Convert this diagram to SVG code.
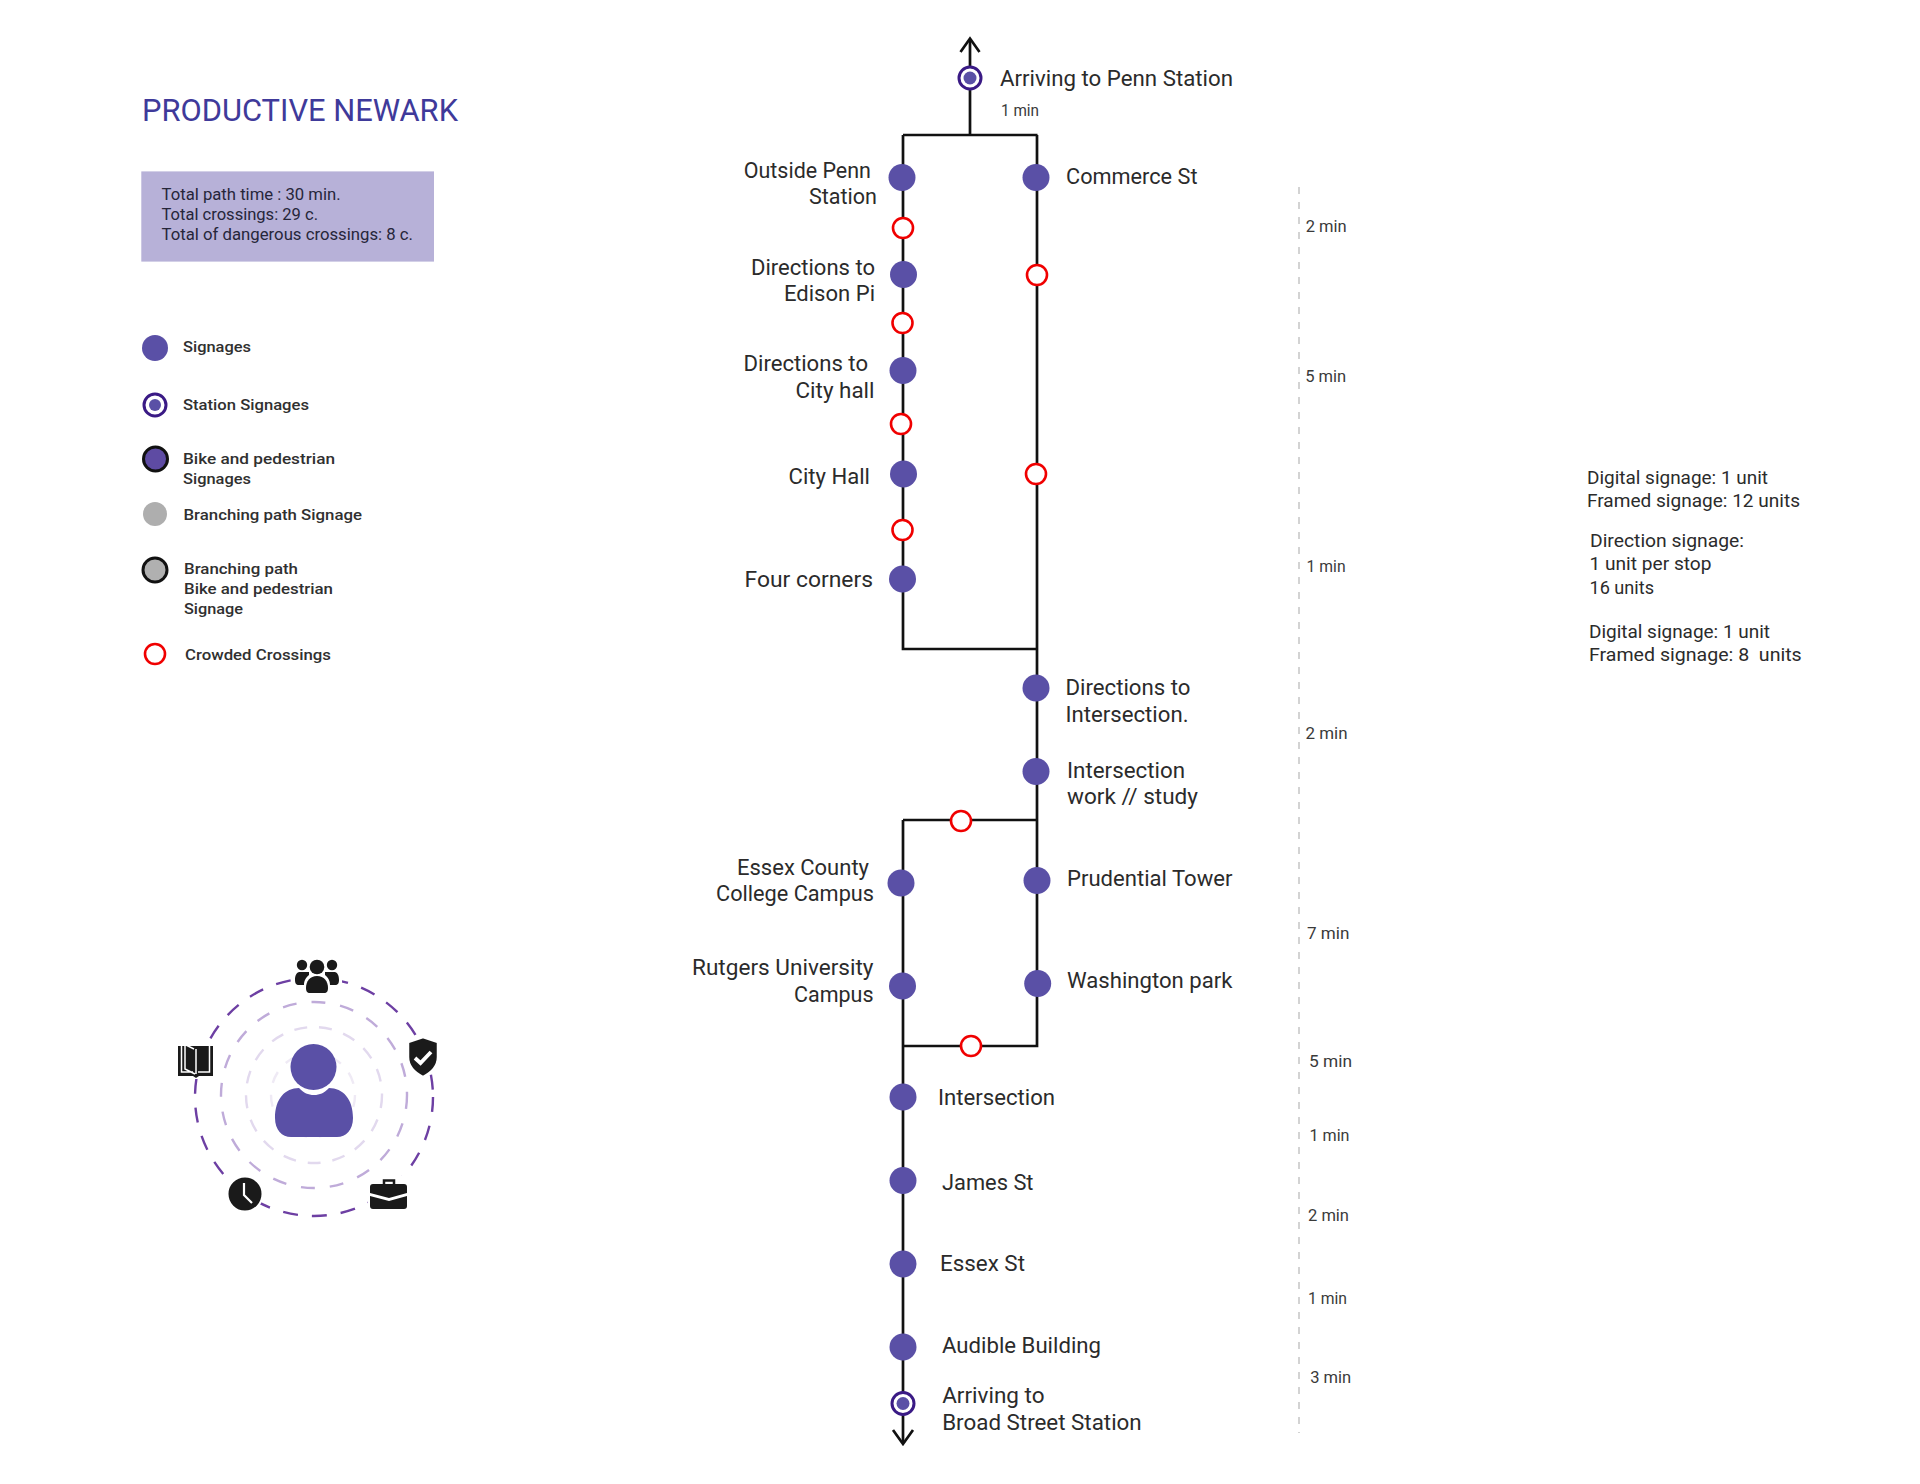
<svg xmlns="http://www.w3.org/2000/svg" width="1920" height="1484" viewBox="0 0 1920 1484">
<defs>
<style>
text{font-family:"Roboto","Liberation Sans",sans-serif;fill:#2b2b2b}
.l{font-size:22.5px}
.m{font-size:16.5px;fill:#3a3a3a}
.s{font-size:18.5px}
.k{font-size:15.5px;font-weight:500;fill:#303030}
.b{font-size:17px;fill:#26263a}
.n{fill:#5a50a6}
.x{fill:#fff;stroke:#f00000;stroke-width:2.6}
.st{fill:#fff;stroke:#3a1a85;stroke-width:3}
.line{fill:none;stroke:#111;stroke-width:2.700}
.ico{fill:#1a1a1a}
</style>
</defs>
<rect width="1920" height="1484" fill="#fff"/>

<g id="connectors">
<path class="line" d="M970 40V135M903 135H1037.500M903 135V649H1037M1037 135V1046H903M903 820H1037M903 820V1442"/>
<path class="line" d="M960.500 52L970 38.500L979.500 52M893 1430L903 1444L913 1430"/>
<path d="M1299 187V1433" fill="none" stroke="#cfcfcf" stroke-width="1.800" stroke-dasharray="7 8"/>
</g>

<g id="title-block">
<text x="142" y="121" textLength="316" lengthAdjust="spacingAndGlyphs" style="font-size:31px;fill:#3f3a9a">PRODUCTIVE NEWARK</text>
<rect x="141.300" y="171.400" width="292.700" height="90.200" fill="#b7b1d8"/>
<text class="b" x="161.500" y="199.800" textLength="179.200" lengthAdjust="spacingAndGlyphs">Total path time : 30 min.</text>
<text class="b" x="161.500" y="219.700" textLength="156.500" lengthAdjust="spacingAndGlyphs">Total crossings: 29 c.</text>
<text class="b" x="161.500" y="240" textLength="251.500" lengthAdjust="spacingAndGlyphs">Total of dangerous crossings: 8 c.</text>
</g>

<g id="legend">
<g id="legend-signages"><circle class="n" cx="155" cy="348" r="13"/><text class="k" x="183" y="352" textLength="68" lengthAdjust="spacingAndGlyphs">Signages</text></g>
<g id="legend-station"><circle class="st" cx="155" cy="405" r="11"/><circle class="n" cx="155" cy="405" r="6"/><text class="k" x="183" y="409.500" textLength="126" lengthAdjust="spacingAndGlyphs">Station Signages</text></g>
<g id="legend-bike"><circle cx="155.500" cy="459" r="12" fill="#5e4ba3" stroke="#111" stroke-width="3"/><text class="k" x="183" y="464" textLength="152" lengthAdjust="spacingAndGlyphs">Bike and pedestrian</text><text class="k" x="183" y="484" textLength="68" lengthAdjust="spacingAndGlyphs">Signages</text></g>
<g id="legend-branch"><circle cx="155" cy="514" r="12" fill="#aeaeae"/><text class="k" x="183.500" y="519.500" textLength="178.500" lengthAdjust="spacingAndGlyphs">Branching path Signage</text></g>
<g id="legend-branch-bike"><circle cx="155" cy="570" r="12" fill="#b0b0b0" stroke="#111" stroke-width="3"/><text class="k" x="184" y="573.500" textLength="114" lengthAdjust="spacingAndGlyphs">Branching path</text><text class="k" x="184" y="594" textLength="149" lengthAdjust="spacingAndGlyphs">Bike and pedestrian</text><text class="k" x="184" y="614" textLength="59" lengthAdjust="spacingAndGlyphs">Signage</text></g>
<g id="legend-crossing"><circle class="x" cx="155" cy="654" r="10"/><text class="k" x="185" y="659.500" textLength="146" lengthAdjust="spacingAndGlyphs">Crowded Crossings</text></g>
</g>

<g id="persona">
<g fill="none" stroke-linecap="butt">
<circle cx="314" cy="1097" r="119" stroke="#6d3fa3" stroke-width="2.400" stroke-dasharray="15 14"/>
<circle cx="314" cy="1095" r="93" stroke="#bfabd9" stroke-width="2.400" stroke-dasharray="14 15"/>
<circle cx="314" cy="1095" r="68" stroke="#e2d9ee" stroke-width="2.400" stroke-dasharray="13 12"/>
<circle cx="313" cy="1095" r="42" stroke="#efeaf5" stroke-width="2.400" stroke-dasharray="12 12"/>
</g>
<path class="n" d="M275 1118C275 1099 285 1088 299 1088C304 1093 308 1095 314 1095C320 1095 324 1093 329 1088C343 1088 353 1099 353 1118C353 1130 346 1137 337 1137H291C282 1137 275 1130 275 1118Z"/>
<circle class="n" cx="313.500" cy="1067" r="23"/>
<g id="icon-people">
<rect x="292" y="958" width="50" height="37" fill="#fff"/>
<circle class="ico" cx="317" cy="967" r="7.300"/><circle class="ico" cx="302" cy="965" r="5.200"/><circle class="ico" cx="332" cy="965" r="5.200"/>
<path class="ico" d="M299 972H309V975C305 978 304 982 304 985H299C296 985 295 983 295 980C295 976 296 973 299 972ZM335 972H325V975C329 978 330 982 330 985H335C338 985 339 983 339 980C339 976 338 973 335 972Z"/>
<path class="ico" d="M306 988C306 981 310 976 317 976C324 976 328 981 328 988C328 991 327 993 324 993H310C307 993 306 991 306 988Z"/>
</g>
<g id="icon-shield">
<path class="ico" stroke="#fff" stroke-width="2.500" d="M423 1037L438 1042V1057C438 1066 431 1073 423 1077C415 1073 408 1066 408 1057V1042Z"/>
<path d="M415 1058L420.500 1063L431 1052" fill="none" stroke="#fff" stroke-width="3.800"/>
</g>
<g id="icon-book">
<rect x="176" y="1042" width="39" height="37" fill="#fff"/>
<path class="ico" d="M178 1046H213V1076H199L196 1078L193 1076H178Z"/>
<path d="M181.500 1046V1072H193M185 1045V1069L195 1074M196 1049V1074M184 1044L194 1049" fill="none" stroke="#fff" stroke-width="1.500"/>
<path d="M209.500 1046V1072H198" fill="none" stroke="#fff" stroke-width="1.500"/>
</g>
<g id="icon-clock">
<circle class="ico" cx="245" cy="1194" r="17.500" stroke="#fff" stroke-width="2"/>
<path d="M244 1183V1195L252 1203" fill="none" stroke="#fff" stroke-width="2.200"/>
</g>
<g id="icon-case">
<rect x="368" y="1176" width="41" height="35" fill="#fff"/>
<path d="M384 1185V1180.500H394V1185" fill="none" stroke="#1a1a1a" stroke-width="2.500"/>
<path class="ico" d="M373 1184H404Q407 1184 407 1187V1193L389 1198L370 1193V1187Q370 1184 373 1184Z"/>
<path class="ico" d="M370 1196L389 1201L407 1196V1206Q407 1209 404 1209H373Q370 1209 370 1206Z"/>
</g>
</g>

<g id="n-penn"><circle class="st" cx="970" cy="78" r="11"/><circle class="n" cx="970" cy="78" r="6.500"/><text class="l" x="1000" y="86" textLength="233" lengthAdjust="spacingAndGlyphs">Arriving to Penn Station</text><text class="m" x="1001" y="116" textLength="38" lengthAdjust="spacingAndGlyphs">1 min</text></g>
<g id="n-outside"><circle class="n" cx="902" cy="177.500" r="13.500"/><text class="l" x="743.700" y="178" textLength="127.300" lengthAdjust="spacingAndGlyphs">Outside Penn</text><text class="l" x="809" y="204" textLength="68" lengthAdjust="spacingAndGlyphs">Station</text></g>
<g id="n-commerce"><circle class="n" cx="1036" cy="177.500" r="13.500"/><text class="l" x="1066" y="184" textLength="131.500" lengthAdjust="spacingAndGlyphs">Commerce St</text></g>
<g id="x1"><circle class="x" cx="903" cy="228" r="10"/></g>
<g id="n-edison"><circle class="n" cx="903.500" cy="274.500" r="13.500"/><text class="l" x="751" y="275" textLength="124" lengthAdjust="spacingAndGlyphs">Directions to</text><text class="l" x="784" y="301" textLength="91" lengthAdjust="spacingAndGlyphs">Edison Pi</text></g>
<g id="x2"><circle class="x" cx="1037" cy="275" r="10"/></g>
<g id="x3"><circle class="x" cx="902.500" cy="323" r="10"/></g>
<g id="n-cityhall-dir"><circle class="n" cx="903" cy="370.500" r="13.500"/><text class="l" x="743.500" y="371" textLength="124.500" lengthAdjust="spacingAndGlyphs">Directions to</text><text class="l" x="795.500" y="398" textLength="79" lengthAdjust="spacingAndGlyphs">City hall</text></g>
<g id="x4"><circle class="x" cx="901" cy="424" r="10"/></g>
<g id="n-cityhall"><circle class="n" cx="903.500" cy="474" r="13.500"/><text class="l" x="788.600" y="484" textLength="81.400" lengthAdjust="spacingAndGlyphs">City Hall</text></g>
<g id="x5"><circle class="x" cx="1036" cy="474" r="10"/></g>
<g id="x6"><circle class="x" cx="902.500" cy="530" r="10"/></g>
<g id="n-four"><circle class="n" cx="902.500" cy="579" r="13.500"/><text class="l" x="744.500" y="587" textLength="128.500" lengthAdjust="spacingAndGlyphs">Four corners</text></g>
<g id="n-dir-int"><circle class="n" cx="1036" cy="688" r="13.500"/><text class="l" x="1065.500" y="694.500" textLength="125" lengthAdjust="spacingAndGlyphs">Directions to</text><text class="l" x="1065.500" y="722" textLength="123" lengthAdjust="spacingAndGlyphs">Intersection.</text></g>
<g id="n-int-work"><circle class="n" cx="1036" cy="771.500" r="13.500"/><text class="l" x="1067" y="777.500" textLength="118" lengthAdjust="spacingAndGlyphs">Intersection</text><text class="l" x="1067" y="803.500" textLength="131" lengthAdjust="spacingAndGlyphs">work // study</text></g>
<g id="x7"><circle class="x" cx="961" cy="821" r="10"/></g>
<g id="n-essex-college"><circle class="n" cx="901" cy="883" r="13.500"/><text class="l" x="737" y="874.500" textLength="132" lengthAdjust="spacingAndGlyphs">Essex County</text><text class="l" x="716" y="901" textLength="158" lengthAdjust="spacingAndGlyphs">College Campus</text></g>
<g id="n-prudential"><circle class="n" cx="1037" cy="880.500" r="13.500"/><text class="l" x="1067" y="885.500" textLength="165.500" lengthAdjust="spacingAndGlyphs">Prudential Tower</text></g>
<g id="n-rutgers"><circle class="n" cx="902.500" cy="986" r="13.500"/><text class="l" x="692" y="975" textLength="181.500" lengthAdjust="spacingAndGlyphs">Rutgers University</text><text class="l" x="794" y="1002" textLength="79.500" lengthAdjust="spacingAndGlyphs">Campus</text></g>
<g id="n-washington"><circle class="n" cx="1037.700" cy="983.500" r="13.500"/><text class="l" x="1067" y="988" textLength="165.500" lengthAdjust="spacingAndGlyphs">Washington park</text></g>
<g id="x8"><circle class="x" cx="971" cy="1046" r="10"/></g>
<g id="n-intersection"><circle class="n" cx="903" cy="1097" r="13.500"/><text class="l" x="938" y="1105" textLength="117" lengthAdjust="spacingAndGlyphs">Intersection</text></g>
<g id="n-james"><circle class="n" cx="903" cy="1180.500" r="13.500"/><text class="l" x="942" y="1190" textLength="91.500" lengthAdjust="spacingAndGlyphs">James St</text></g>
<g id="n-essex-st"><circle class="n" cx="903" cy="1264" r="13.500"/><text class="l" x="940" y="1271" textLength="85" lengthAdjust="spacingAndGlyphs">Essex St</text></g>
<g id="n-audible"><circle class="n" cx="903" cy="1347" r="13.500"/><text class="l" x="942" y="1353" textLength="159" lengthAdjust="spacingAndGlyphs">Audible Building</text></g>
<g id="n-broad"><circle class="st" cx="903" cy="1403.500" r="11"/><circle class="n" cx="903" cy="1403.500" r="6.500"/><text class="l" x="942.200" y="1403" textLength="102.300" lengthAdjust="spacingAndGlyphs">Arriving to</text><text class="l" x="942.200" y="1430" textLength="199.500" lengthAdjust="spacingAndGlyphs">Broad Street Station</text></g>

<g id="times">
<text class="m" x="1305.700" y="232" textLength="41" lengthAdjust="spacingAndGlyphs">2 min</text>
<text class="m" x="1305.200" y="382" textLength="41" lengthAdjust="spacingAndGlyphs">5 min</text>
<text class="m" x="1306.600" y="571.500" textLength="39" lengthAdjust="spacingAndGlyphs">1 min</text>
<text class="m" x="1305.500" y="738.500" textLength="42" lengthAdjust="spacingAndGlyphs">2 min</text>
<text class="m" x="1307" y="938.500" textLength="42.400" lengthAdjust="spacingAndGlyphs">7 min</text>
<text class="m" x="1309" y="1066.500" textLength="43" lengthAdjust="spacingAndGlyphs">5 min</text>
<text class="m" x="1309.500" y="1141" textLength="40" lengthAdjust="spacingAndGlyphs">1 min</text>
<text class="m" x="1308" y="1221" textLength="41" lengthAdjust="spacingAndGlyphs">2 min</text>
<text class="m" x="1308" y="1303.500" textLength="39" lengthAdjust="spacingAndGlyphs">1 min</text>
<text class="m" x="1310.200" y="1383" textLength="41" lengthAdjust="spacingAndGlyphs">3 min</text>
</g>

<g id="signage-notes">
<text class="s" x="1587" y="484" textLength="181" lengthAdjust="spacingAndGlyphs">Digital signage: 1 unit</text>
<text class="s" x="1587" y="507" textLength="213" lengthAdjust="spacingAndGlyphs">Framed signage: 12 units</text>
<text class="s" x="1590" y="547" textLength="154" lengthAdjust="spacingAndGlyphs">Direction signage:</text>
<text class="s" x="1589.500" y="570" textLength="122" lengthAdjust="spacingAndGlyphs">1 unit per stop</text>
<text class="s" x="1589.500" y="594" textLength="64.500" lengthAdjust="spacingAndGlyphs">16 units</text>
<text class="s" x="1589" y="637.700" textLength="181" lengthAdjust="spacingAndGlyphs">Digital signage: 1 unit</text>
<text class="s" x="1589" y="660.700" textLength="212.700" lengthAdjust="spacingAndGlyphs" xml:space="preserve">Framed signage: 8  units</text>
</g>
</svg>
